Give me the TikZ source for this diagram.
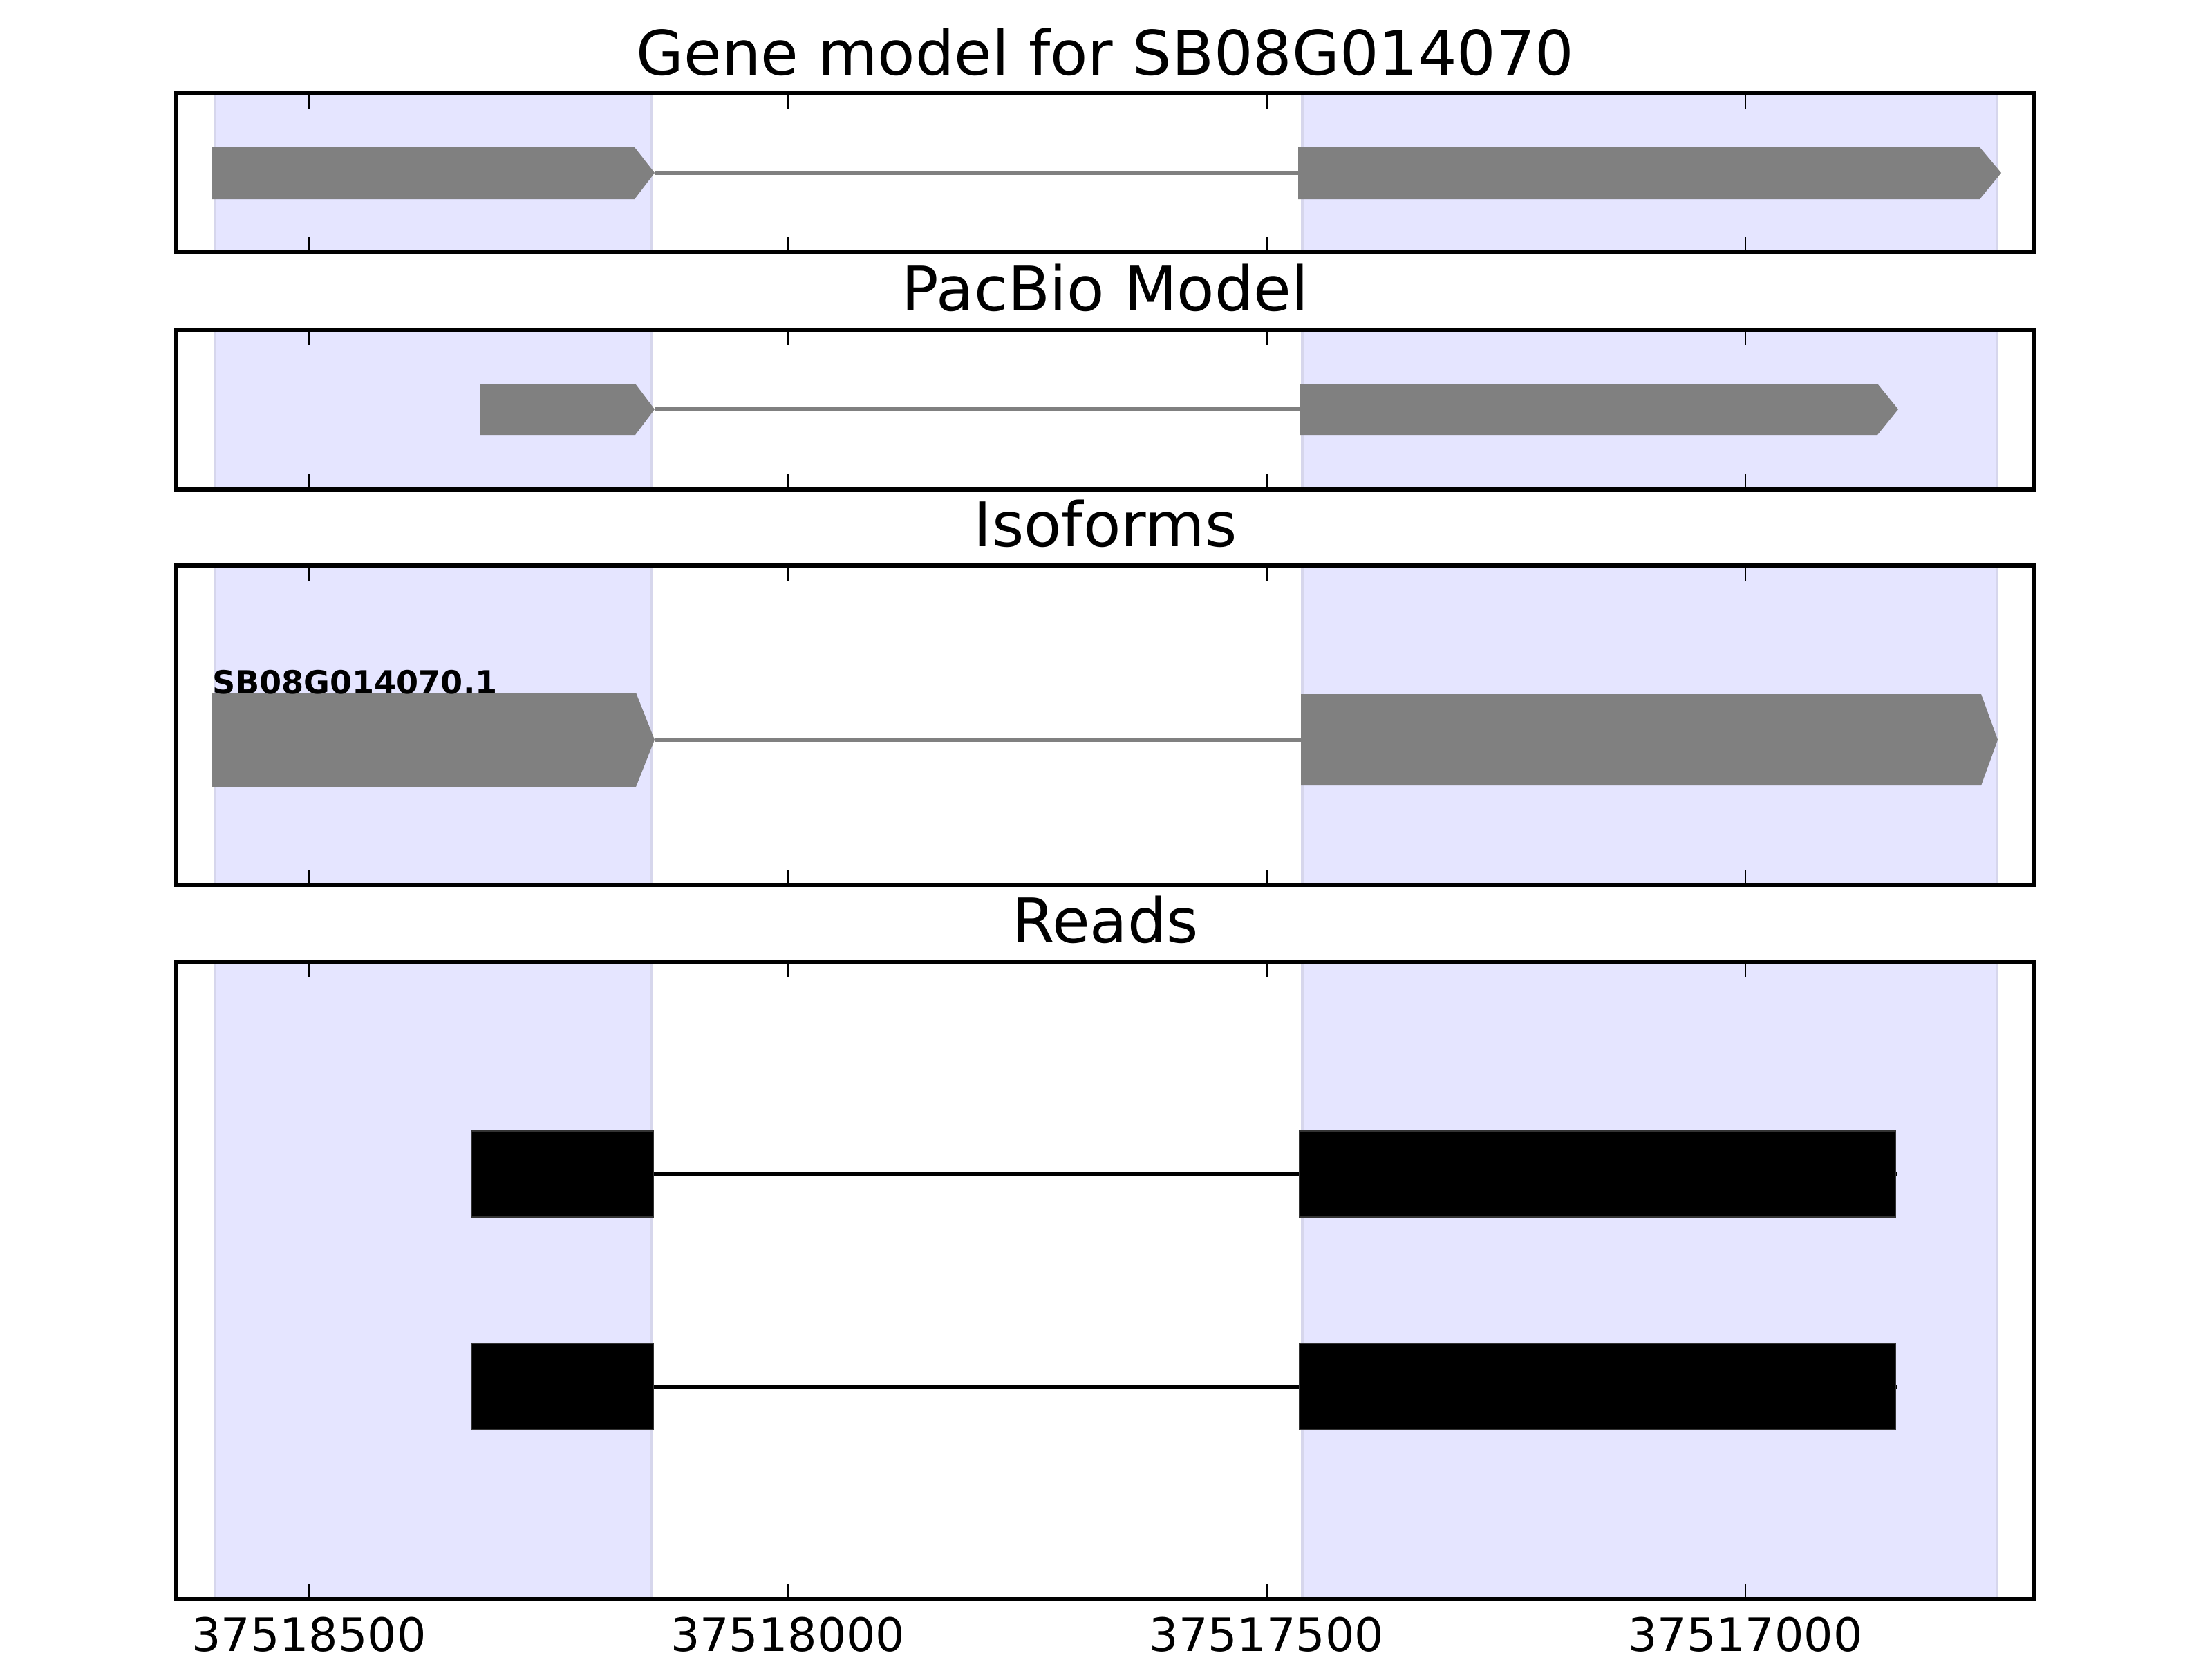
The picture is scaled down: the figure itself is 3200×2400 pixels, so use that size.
\documentclass[tikz,border=0pt]{standalone}
\usepackage{fontspec}
\setmainfont{DejaVu Sans}
\usetikzlibrary{calc}
\definecolor{spanBlue}{RGB}{229,229,255}
\definecolor{spanEdge}{RGB}{214,214,236}
\definecolor{exonGray}{RGB}{128,128,128}

\begin{document}
\begin{tikzpicture}[
            x=0.18pt, y=-0.18pt,
            spanbox/.style={
                fill=spanBlue,
                draw=spanEdge,
                line width=0.6pt
            },
            panelframe/.style={
                draw=black,
                line width=1pt
            },
            tickmark/.style={
                draw=black,
                line width=0.5pt
            },
            exonshape/.style={
                fill=exonGray
            },
            intronline/.style={
                draw=exonGray,
                line width=0.95pt
            },
            readexon/.style={
                fill=black,
                draw=black!80,
                line width=0.3pt
            },
            readline/.style={
                intronline,
                draw=black
            },
            paneltitle/.style={
                font=\fontsize{16}{19}\selectfont,
                anchor=base,
                inner sep=0pt
            },
            ticklabel/.style={
                font=\fontsize{12}{14}\selectfont,
                anchor=base,
                inner sep=0pt
            },
            isolabel/.style={
                font=\fontsize{8.3}{10}\selectfont\bfseries,
                anchor=base west,
                inner sep=0pt
            }
        ]

        \useasboundingbox (0,0) rectangle (3200,2400);

        % --- Gene model ---
        \coordinate (genenw) at (255,135);
        \coordinate (genese) at (2943,365);
        \draw[spanbox] (311,135) rectangle (942,365);
        \draw[spanbox] (1884,135) rectangle (2889,365);

        \fill[exonshape] (306,213) -- (918,213) -- (947,250)
            -- (918,288) -- (306,288) -- cycle;
        \fill[exonshape] (1878,213) -- (2864,213) -- (2895,250)
            -- (2864,288) -- (1878,288) -- cycle;
        \coordinate (geneexonA) at (947,250);
        \coordinate (geneexonB) at (1878,250);
        \draw[intronline] (geneexonA) -- (geneexonB);

        \node[paneltitle] (genetitle) at ($(genenw)!0.5!(genenw -| genese)+(0,-27)$)
            {Gene model for SB08G014070};

        % --- PacBio model ---
        \coordinate (pacbionw) at (255,477);
        \coordinate (pacbiose) at (2943,708);
        \draw[spanbox] (311,477) rectangle (942,708);
        \draw[spanbox] (1884,477) rectangle (2889,708);

        \fill[exonshape] (694,555) -- (919,555) -- (947,592)
            -- (919,629) -- (694,629) -- cycle;
        \fill[exonshape] (1880,555) -- (2716,555) -- (2746,592)
            -- (2716,629) -- (1880,629) -- cycle;
        \coordinate (pacbioexonA) at (947,592);
        \coordinate (pacbioexonB) at (1880,592);
        \draw[intronline] (pacbioexonA) -- (pacbioexonB);

        \node[paneltitle] (pacbiotitle) at ($(pacbionw)!0.5!(pacbionw -| pacbiose)+(0,-28)$)
            {PacBio Model};

        % --- Isoforms ---
        \coordinate (isonw) at (255,818);
        \coordinate (isose) at (2943,1280);
        \draw[spanbox] (311,818) rectangle (942,1280);
        \draw[spanbox] (1884,818) rectangle (2889,1280);

        \fill[exonshape] (306,1002) -- (920,1002) -- (947,1070)
            -- (920,1138) -- (306,1138) -- cycle;
        \fill[exonshape] (1882,1004) -- (2866,1004) -- (2890,1070)
            -- (2866,1136) -- (1882,1136) -- cycle;
        \coordinate (isoexonA) at (947,1070);
        \coordinate (isoexonB) at (1882,1070);
        \draw[intronline] (isoexonA) -- (isoexonB);

        \node[isolabel] (isoname) at (306,1003) {SB08G014070.1};

        \node[paneltitle] (isotitle) at ($(isonw)!0.5!(isonw -| isose)+(0,-28)$)
            {Isoforms};

        % --- Reads ---
        \coordinate (readsnw) at (255,1391);
        \coordinate (readsse) at (2943,2313);
        \draw[spanbox] (311,1391) rectangle (942,2313);
        \draw[spanbox] (1884,1391) rectangle (2889,2313);

        \coordinate (readAstart) at (682,1698);
        \coordinate (readAend) at (2745,1698);
        \coordinate (readBstart) at (682,2006);
        \coordinate (readBend) at (2745,2006);
        \draw[readline] (readAstart) -- (readAend);
        \draw[readline] (readBstart) -- (readBend);
        \filldraw[readexon] (682,1636) rectangle (945,1760);
        \filldraw[readexon] (1880,1636) rectangle (2742,1760);
        \filldraw[readexon] (682,1943) rectangle (945,2068);
        \filldraw[readexon] (1880,1943) rectangle (2742,2068);

        \node[paneltitle] (readstitle) at ($(readsnw)!0.5!(readsnw -| readsse)+(0,-28)$)
            {Reads};

        % --- Frames and ticks ---
        \foreach \panel in {gene,pacbio,iso,reads} {
            \draw[panelframe] (\panel nw) rectangle (\panel se);
            \foreach \tx in {447,1139.7,1832.3,2525} {
                \draw[tickmark] (\tx,0 |- \panel nw) -- ++(0,22);
                \draw[tickmark] (\tx,0 |- \panel se) -- ++(0,-22);
            }
        }

        \node[ticklabel] (tickA) at (447,2388) {37518500};
        \node[ticklabel] (tickB) at (1139.7,2388) {37518000};
        \node[ticklabel] (tickC) at (1832.3,2388) {37517500};
        \node[ticklabel] (tickD) at (2525,2388) {37517000};

        \end{tikzpicture}
\end{document}
